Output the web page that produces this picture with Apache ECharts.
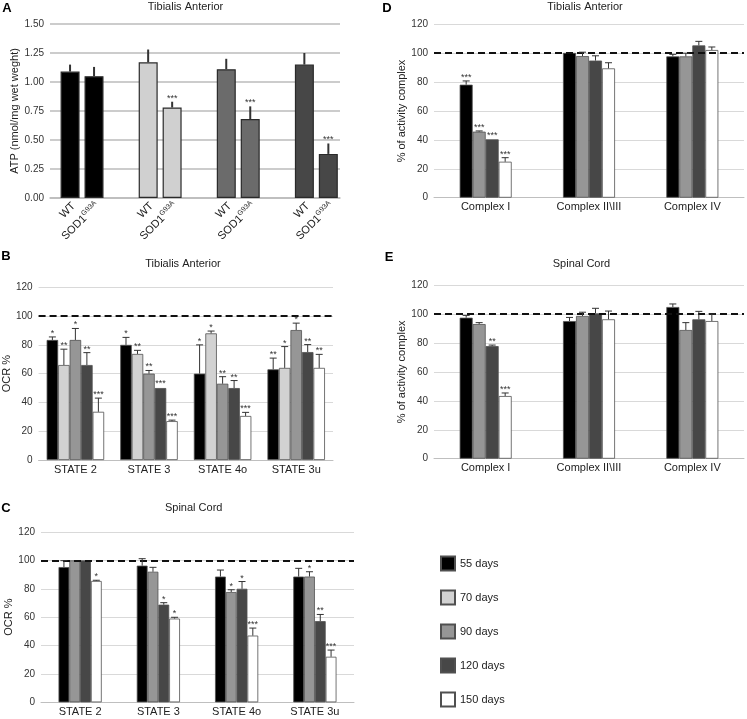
<!DOCTYPE html>
<html>
<head>
<meta charset="utf-8">
<script src="https://cdn.jsdelivr.net/npm/echarts@6/dist/echarts.min.js"></script>
<style>html,body{margin:0;padding:0;background:#fff}#c{width:747px;height:719px}</style>
</head>
<body>
<div id="c"></div>
<script>
// ---------- DATA ----------
// Panel A: ATP, Tibialis Anterior (WT vs SOD1G93A at each age)
const atpAges = ['55 days', '70 days', '90 days', '120 days'];
const atpWT = [1.09, 1.17, 1.11, 1.15];
const atpWTSd = [0.06, 0.11, 0.09, 0.10];
const atpSOD = [1.05, 0.78, 0.68, 0.38];
const atpSODSd = [0.08, 0.05, 0.11, 0.09];
const atpWTStars = ['', '', '', ''];
const atpSODStars = ['', '***', '***', '***'];
const atpTicks = [0, 0.25, 0.5, 0.75, 1.0, 1.25, 1.5];

// Panel B: OCR %, Tibialis Anterior
const states = ['STATE 2', 'STATE 3', 'STATE 4o', 'STATE 3u'];
const taOcr55 = [83.4, 80.0, 60.0, 63.0];
const taOcr55Sd = [2.1, 5.2, 20.0, 7.8];
const taOcr55Stars = ['*', '*', '*', '**'];
const taOcr70 = [66.0, 73.7, 88.0, 64.0];
const taOcr70Sd = [11.0, 2.5, 1.6, 14.8];
const taOcr70Stars = ['**', '**', '*', '*'];
const taOcr90 = [83.4, 60.0, 53.0, 90.3];
const taOcr90Sd = [8.0, 2.2, 4.9, 4.8];
const taOcr90Stars = ['*', '**', '**', '*'];
const taOcr120 = [66.0, 50.0, 50.0, 75.0];
const taOcr120Sd = [8.6, 0.4, 5.2, 5.2];
const taOcr120Stars = ['**', '***', '**', '**'];
const taOcr150 = [33.5, 27.0, 30.6, 64.0];
const taOcr150Sd = [9.5, 0.7, 2.5, 9.4];
const taOcr150Stars = ['***', '***', '***', '**'];

// Panel C: OCR %, Spinal Cord (55, 90, 120, 150 days)
const scOcr55 = [95.3, 96.3, 88.6, 88.6];
const scOcr55Sd = [4.5, 4.9, 4.6, 5.8];
const scOcr55Stars = ['', '', '', ''];
const scOcr90 = [100.0, 92.0, 77.7, 88.6];
const scOcr90Sd = [0.3, 3.1, 1.6, 3.4];
const scOcr90Stars = ['', '', '*', '*'];
const scOcr120 = [100.0, 68.8, 80.0, 57.2];
const scOcr120Sd = [0.3, 1.4, 5.1, 4.7];
const scOcr120Stars = ['', '*', '*', '**'];
const scOcr150 = [85.5, 59.0, 47.0, 32.1];
const scOcr150Sd = [0.5, 0.9, 5.3, 4.7];
const scOcr150Stars = ['*', '*', '***', '***'];

// Panel D: % of activity complex, Tibialis Anterior
const complexes = ['Complex I', 'Complex II\\III', 'Complex IV'];
const taCx55 = [78.2, 100.2, 97.8];
const taCx55Sd = [2.6, 0.0, 1.4];
const taCx55Stars = ['***', '', ''];
const taCx90 = [45.7, 98.0, 97.8];
const taCx90Sd = [0.5, 2.7, 2.2];
const taCx90Stars = ['***', '', ''];
const taCx120 = [40.4, 94.9, 105.4];
const taCx120Sd = [0.4, 3.3, 2.8];
const taCx120Stars = ['***', '', ''];
const taCx150 = [24.9, 89.5, 102.2];
const taCx150Sd = [2.8, 3.9, 2.1];
const taCx150Stars = ['***', '', ''];

// Panel E: % of activity complex, Spinal Cord
const scCx55 = [97.4, 95.1, 104.8];
const scCx55Sd = [1.6, 2.5, 2.1];
const scCx55Stars = ['', '', ''];
const scCx90 = [93.0, 98.6, 88.9];
const scCx90Sd = [1.0, 2.6, 5.1];
const scCx90Stars = ['', '', ''];
const scCx120 = [77.8, 100.4, 96.3];
const scCx120Sd = [0.7, 3.5, 5.5];
const scCx120Stars = ['**', '', ''];
const scCx150 = [43.3, 96.3, 95.1];
const scCx150Sd = [2.1, 5.7, 4.9];
const scCx150Stars = ['***', '', ''];

const referenceLevel = 100;
const ocrTicks = [0, 20, 40, 60, 80, 100, 120];
const legendNames = ['55 days', '70 days', '90 days', '120 days', '150 days'];

// ---------- STYLE ----------
const FONT = '"Liberation Sans", Arial, Helvetica, sans-serif';
const ageColors = {'55 days': '#000000', '70 days': '#d2d2d2', '90 days': '#969696', '120 days': '#474747', '150 days': '#ffffff'};
const atpColors = ['#000000', '#d0d0d0', '#6b6b6b', '#474747'];

// ---------- HELPERS ----------
function errorSeries(xi, groups, bw, gap, cap, lineW) {
  const n = groups.length;
  const data = [], stars = [];
  groups.forEach((g, s) => {
    g.mean.forEach((m, c) => { data.push([c, s, m, g.sd[c]]); stars.push(g.stars[c]); });
  });
  return {
    type: 'custom', xAxisIndex: xi, yAxisIndex: xi, z: 6, silent: true,
    data: data,
    renderItem: function (params, api) {
      const c = api.value(0), s = api.value(1), m = api.value(2), sd = api.value(3);
      const base = api.coord([c, m]);
      const top = api.coord([c, m + sd]);
      const x = base[0] + (s - (n - 1) / 2) * (bw + gap);
      const children = [];
      if (base[1] - top[1] > 0.6) {
        children.push({type: 'line', shape: {x1: x, y1: base[1], x2: x, y2: top[1]}, style: {stroke: '#333', lineWidth: lineW}});
        if (cap > 0) children.push({type: 'line', shape: {x1: x - cap / 2, y1: top[1], x2: x + cap / 2, y2: top[1]}, style: {stroke: '#333', lineWidth: 1}});
      }
      const st = stars[params.dataIndex];
      if (st) {
        children.push({type: 'text', style: {x: x, y: top[1] + 1, text: st, align: 'center', verticalAlign: 'bottom', fontSize: 9, fontFamily: FONT, fill: '#333'}});
      }
      return {type: 'group', children: children};
    }
  };
}

function ageBars(xi, name, data, bw, isLast) {
  const s = {
    type: 'bar', name: name, xAxisIndex: xi, yAxisIndex: xi, data: data,
    barWidth: bw, barGap: '0%', silent: true,
    itemStyle: {color: ageColors[name], borderColor: '#505050', borderWidth: 0.8}
  };
  if (isLast) {
    s.z = 4;
    s.markLine = {silent: true, symbol: ['none', 'none'], label: {show: false},
      lineStyle: {color: '#111', width: 2, type: [7, 4]}, data: [{yAxis: referenceLevel}]};
  }
  return s;
}

function pctYAxis(gi, name, nameGap) {
  return {
    type: 'value', gridIndex: gi, min: ocrTicks[0], max: ocrTicks[ocrTicks.length - 1], interval: ocrTicks[1] - ocrTicks[0],
    axisLine: {show: false}, axisTick: {show: false},
    axisLabel: {fontSize: 10, color: '#333', fontFamily: FONT, margin: 6},
    splitLine: {lineStyle: {color: '#d9d9d9', width: 1}},
    name: name, nameLocation: 'middle', nameGap: nameGap,
    nameTextStyle: {fontSize: 11, color: '#222', fontFamily: FONT}
  };
}
function catXAxis(gi, cats) {
  return {
    type: 'category', gridIndex: gi, data: cats,
    axisTick: {show: false}, axisLine: {lineStyle: {color: '#bfbfbf', width: 1}},
    axisLabel: {fontSize: 11, color: '#222', fontFamily: FONT, margin: 4}
  };
}

// ---------- OPTION ----------
const option = {
  animation: false,
  backgroundColor: '#ffffff',
  textStyle: {fontFamily: FONT},
  grid: [
    {left: 50, right: 407, top: 24, bottom: 521},            // 0: A gridlines
    {left: 43, right: 391.6, top: 24, bottom: 521},          // 1: A bars
    {left: 38, right: 414, top: 287.3, bottom: 259},         // 2: B
    {left: 41, right: 393, top: 532, bottom: 16.7},          // 3: C
    {left: 434, right: 3, top: 24.3, bottom: 521.3},         // 4: D
    {left: 434, right: 3, top: 285, bottom: 260.3}           // 5: E
  ],
  xAxis: [
    {type: 'category', gridIndex: 0, data: [''], axisTick: {show: false}, axisLabel: {show: false},
     axisLine: {lineStyle: {color: '#bbbbbb', width: 1.5}}},
    {type: 'category', gridIndex: 1, data: atpAges, axisTick: {show: false}, axisLabel: {show: false}, axisLine: {show: false}},
    catXAxis(2, states),
    catXAxis(3, states),
    catXAxis(4, complexes),
    catXAxis(5, complexes)
  ],
  yAxis: [
    {type: 'value', gridIndex: 0, min: atpTicks[0], max: atpTicks[atpTicks.length - 1], interval: atpTicks[1] - atpTicks[0],
     axisLine: {show: false}, axisTick: {show: false},
     axisLabel: {fontSize: 10, color: '#333', fontFamily: FONT, margin: 6, formatter: v => v.toFixed(2)},
     splitLine: {lineStyle: {color: '#bbbbbb', width: 1.5}},
     name: 'ATP (nmol/mg wet weght)', nameLocation: 'middle', nameGap: 24,
     nameTextStyle: {fontSize: 11, color: '#222', fontFamily: FONT}},
    {type: 'value', gridIndex: 1, min: atpTicks[0], max: atpTicks[atpTicks.length - 1], show: false, splitLine: {show: false}},
    pctYAxis(2, 'OCR %', 22),
    pctYAxis(3, 'OCR %', 21),
    pctYAxis(4, '% of activity complex', 27),
    pctYAxis(5, '% of activity complex', 27)
  ],
  legend: {
    data: legendNames, orient: 'vertical', left: 435, top: 550.5, height: 200,
    itemWidth: 14, itemHeight: 14, itemGap: 18, icon: 'rect', selectedMode: false,
    textStyle: {fontSize: 11, color: '#222', fontFamily: FONT}
  },
  graphic: [
    {type: 'text', x: 7, y: 8, style: {text: 'A', fontSize: 13, fontWeight: 'bold', fontFamily: FONT, fill: '#000', align: 'center', verticalAlign: 'middle'}},
    {type: 'text', x: 185.5, y: 6.5, style: {text: 'Tibialis Anterior', fontSize: 11, fontFamily: FONT, fill: '#222', align: 'center', verticalAlign: 'middle'}},
    {type: 'text', x: 6, y: 256, style: {text: 'B', fontSize: 13, fontWeight: 'bold', fontFamily: FONT, fill: '#000', align: 'center', verticalAlign: 'middle'}},
    {type: 'text', x: 183, y: 264, style: {text: 'Tibialis Anterior', fontSize: 11, fontFamily: FONT, fill: '#222', align: 'center', verticalAlign: 'middle'}},
    {type: 'text', x: 6, y: 508, style: {text: 'C', fontSize: 13, fontWeight: 'bold', fontFamily: FONT, fill: '#000', align: 'center', verticalAlign: 'middle'}},
    {type: 'text', x: 193.7, y: 508, style: {text: 'Spinal Cord', fontSize: 11, fontFamily: FONT, fill: '#222', align: 'center', verticalAlign: 'middle'}},
    {type: 'text', x: 387, y: 8, style: {text: 'D', fontSize: 13, fontWeight: 'bold', fontFamily: FONT, fill: '#000', align: 'center', verticalAlign: 'middle'}},
    {type: 'text', x: 585, y: 6.5, style: {text: 'Tibialis Anterior', fontSize: 11, fontFamily: FONT, fill: '#222', align: 'center', verticalAlign: 'middle'}},
    {type: 'text', x: 389, y: 257, style: {text: 'E', fontSize: 13, fontWeight: 'bold', fontFamily: FONT, fill: '#000', align: 'center', verticalAlign: 'middle'}},
    {type: 'text', x: 581.5, y: 264, style: {text: 'Spinal Cord', fontSize: 11, fontFamily: FONT, fill: '#222', align: 'center', verticalAlign: 'middle'}}
  ],
  series: []
};

// Panel A bars
option.series.push({
  type: 'bar', name: 'WT', xAxisIndex: 1, yAxisIndex: 1, data: atpWT, barWidth: 19, barGap: '26%', silent: true,
  itemStyle: {color: p => atpColors[p.dataIndex], borderColor: '#2a2a2a', borderWidth: 1.2},
  label: {show: true, position: ['50%', '100%'], offset: [-2, 7], rotate: 45, align: 'right', verticalAlign: 'middle',
          formatter: 'WT', fontSize: 11, color: '#222', fontFamily: FONT}
});
option.series.push({
  type: 'bar', name: 'SOD1 G93A', xAxisIndex: 1, yAxisIndex: 1, data: atpSOD, barWidth: 19, barGap: '26%', silent: true,
  itemStyle: {color: p => atpColors[p.dataIndex], borderColor: '#2a2a2a', borderWidth: 1.2},
  label: {show: true, position: ['50%', '100%'], offset: [-2, 7], rotate: 45, align: 'right', verticalAlign: 'middle',
          formatter: '{m|SOD1}{s|G93A}', color: '#222', fontFamily: FONT,
          rich: {m: {fontSize: 11, color: '#222', fontFamily: FONT}, s: {fontSize: 7, color: '#222', fontFamily: FONT, padding: [0, 0, 7, 0]}}}
});
option.series.push(errorSeries(1, [
  {mean: atpWT, sd: atpWTSd, stars: atpWTStars},
  {mean: atpSOD, sd: atpSODSd, stars: atpSODStars}
], 19, 5, 0, 2));

// Panel B
const bGroups = [
  ['55 days', taOcr55, taOcr55Sd, taOcr55Stars],
  ['70 days', taOcr70, taOcr70Sd, taOcr70Stars],
  ['90 days', taOcr90, taOcr90Sd, taOcr90Stars],
  ['120 days', taOcr120, taOcr120Sd, taOcr120Stars],
  ['150 days', taOcr150, taOcr150Sd, taOcr150Stars]
];
bGroups.forEach((g, i) => option.series.push(ageBars(2, g[0], g[1], 11.5, i === bGroups.length - 1)));
option.series.push(errorSeries(2, bGroups.map(g => ({mean: g[1], sd: g[2], stars: g[3]})), 11.5, 0, 7, 1));

// Panel C
const cGroups = [
  ['55 days', scOcr55, scOcr55Sd, scOcr55Stars],
  ['90 days', scOcr90, scOcr90Sd, scOcr90Stars],
  ['120 days', scOcr120, scOcr120Sd, scOcr120Stars],
  ['150 days', scOcr150, scOcr150Sd, scOcr150Stars]
];
cGroups.forEach((g, i) => option.series.push(ageBars(3, g[0], g[1], 10.8, i === cGroups.length - 1)));
option.series.push(errorSeries(3, cGroups.map(g => ({mean: g[1], sd: g[2], stars: g[3]})), 10.8, 0, 7, 1));

// Panel D
const dGroups = [
  ['55 days', taCx55, taCx55Sd, taCx55Stars],
  ['90 days', taCx90, taCx90Sd, taCx90Stars],
  ['120 days', taCx120, taCx120Sd, taCx120Stars],
  ['150 days', taCx150, taCx150Sd, taCx150Stars]
];
dGroups.forEach((g, i) => option.series.push(ageBars(4, g[0], g[1], 13, i === dGroups.length - 1)));
option.series.push(errorSeries(4, dGroups.map(g => ({mean: g[1], sd: g[2], stars: g[3]})), 13, 0, 7, 1));

// Panel E
const eGroups = [
  ['55 days', scCx55, scCx55Sd, scCx55Stars],
  ['90 days', scCx90, scCx90Sd, scCx90Stars],
  ['120 days', scCx120, scCx120Sd, scCx120Stars],
  ['150 days', scCx150, scCx150Sd, scCx150Stars]
];
eGroups.forEach((g, i) => option.series.push(ageBars(5, g[0], g[1], 13, i === eGroups.length - 1)));
option.series.push(errorSeries(5, eGroups.map(g => ({mean: g[1], sd: g[2], stars: g[3]})), 13, 0, 7, 1));

const chart = echarts.init(document.getElementById('c'), null, {renderer: 'canvas'});
chart.setOption(option);
</script>
</body>
</html>
